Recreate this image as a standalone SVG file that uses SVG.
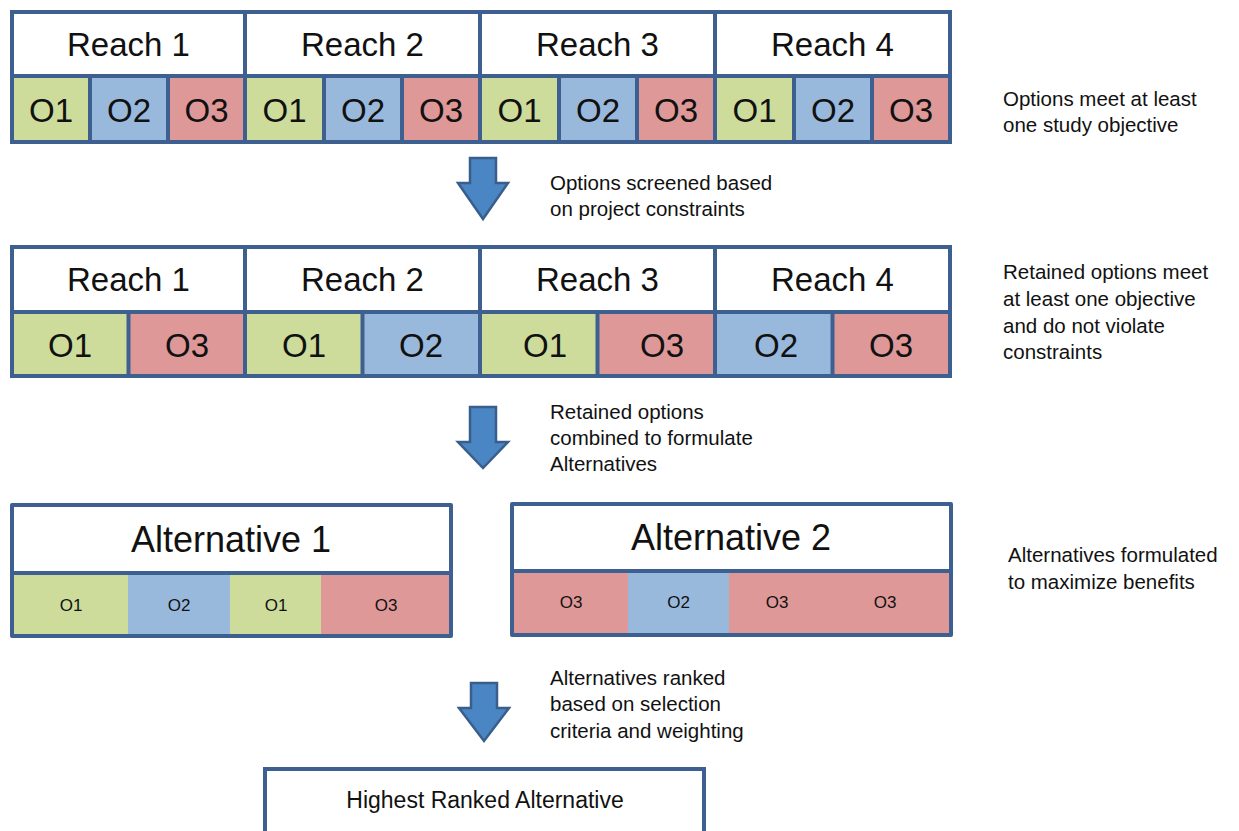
<svg xmlns="http://www.w3.org/2000/svg" width="1239" height="831" viewBox="0 0 1239 831">
<style>
.frame{fill:#3D6090}
.hdr{fill:#FFFFFF}
.g{fill:#CDDC9B}
.b{fill:#99B9DC}
.r{fill:#DE9898}
text{font-family:"Liberation Sans",Arial,sans-serif;fill:#111}
.big{font-size:33px;text-anchor:middle}
.alt{font-size:36px;text-anchor:middle}
.sm{font-size:17px;text-anchor:middle}
.note{font-size:20.5px}
.final{font-size:23px;text-anchor:middle}
.arrow{fill:#4A86C4;stroke:#3A5E8C;stroke-width:2.5;stroke-linejoin:miter}
</style>
<rect width="1239" height="831" fill="#FFFFFF"/>

<g id="row1">
  <rect class="frame" x="10" y="10" width="942" height="134"/>
  <rect class="hdr" x="14" y="14" width="229" height="60"/>
  <rect class="hdr" x="247" y="14" width="231" height="60"/>
  <rect class="hdr" x="482" y="14" width="231" height="60"/>
  <rect class="hdr" x="717" y="14" width="231" height="60"/>
  <text class="big" x="128.5" y="56">Reach 1</text>
  <text class="big" x="362.5" y="56">Reach 2</text>
  <text class="big" x="597.5" y="56">Reach 3</text>
  <text class="big" x="832.5" y="56">Reach 4</text>
  <rect class="g" x="14" y="78" width="74" height="62"/>
  <rect class="b" x="92" y="78" width="74" height="62"/>
  <rect class="r" x="170" y="78" width="73" height="62"/>
  <rect class="g" x="247" y="78" width="75" height="62"/>
  <rect class="b" x="326" y="78" width="74" height="62"/>
  <rect class="r" x="404" y="78" width="74" height="62"/>
  <rect class="g" x="482" y="78" width="75" height="62"/>
  <rect class="b" x="561" y="78" width="74" height="62"/>
  <rect class="r" x="639" y="78" width="74" height="62"/>
  <rect class="g" x="717" y="78" width="75" height="62"/>
  <rect class="b" x="796" y="78" width="74" height="62"/>
  <rect class="r" x="874" y="78" width="74" height="62"/>
  <text class="big" x="51" y="122">O1</text>
  <text class="big" x="129" y="122">O2</text>
  <text class="big" x="206.5" y="122">O3</text>
  <text class="big" x="284.5" y="122">O1</text>
  <text class="big" x="363" y="122">O2</text>
  <text class="big" x="441" y="122">O3</text>
  <text class="big" x="519.5" y="122">O1</text>
  <text class="big" x="598" y="122">O2</text>
  <text class="big" x="676" y="122">O3</text>
  <text class="big" x="754.5" y="122">O1</text>
  <text class="big" x="833" y="122">O2</text>
  <text class="big" x="911" y="122">O3</text>
</g>

<g id="row2">
  <rect class="frame" x="10" y="245" width="942" height="133"/>
  <rect class="hdr" x="14" y="249" width="229" height="61"/>
  <rect class="hdr" x="247" y="249" width="231" height="61"/>
  <rect class="hdr" x="482" y="249" width="231" height="61"/>
  <rect class="hdr" x="717" y="249" width="231" height="61"/>
  <text class="big" x="128.5" y="291">Reach 1</text>
  <text class="big" x="362.5" y="291">Reach 2</text>
  <text class="big" x="597.5" y="291">Reach 3</text>
  <text class="big" x="832.5" y="291">Reach 4</text>
  <rect class="g" x="14" y="314" width="112.5" height="60"/>
  <rect class="r" x="130.5" y="314" width="112.5" height="60"/>
  <rect class="g" x="247" y="314" width="113.5" height="60"/>
  <rect class="b" x="364.5" y="314" width="113.5" height="60"/>
  <rect class="g" x="482" y="314" width="113.5" height="60"/>
  <rect class="r" x="599.5" y="314" width="113.5" height="60"/>
  <rect class="b" x="717" y="314" width="113.5" height="60"/>
  <rect class="r" x="834.5" y="314" width="113.5" height="60"/>
  <text class="big" x="70" y="357">O1</text>
  <text class="big" x="187" y="357">O3</text>
  <text class="big" x="304" y="357">O1</text>
  <text class="big" x="421" y="357">O2</text>
  <text class="big" x="545" y="357">O1</text>
  <text class="big" x="662" y="357">O3</text>
  <text class="big" x="776" y="357">O2</text>
  <text class="big" x="891" y="357">O3</text>
</g>

<g id="alternative1">
  <rect class="frame" x="10" y="503" width="443" height="135" rx="2"/>
  <rect class="hdr" x="14" y="507" width="435" height="64"/>
  <text class="alt" x="231" y="552">Alternative 1</text>
  <rect class="g" x="14" y="575" width="114" height="59"/>
  <rect class="b" x="128" y="575" width="102" height="59"/>
  <rect class="g" x="230" y="575" width="91" height="59"/>
  <rect class="r" x="321" y="575" width="128" height="59"/>
  <text class="sm" x="71" y="611">O1</text>
  <text class="sm" x="179" y="611">O2</text>
  <text class="sm" x="276" y="611">O1</text>
  <text class="sm" x="386" y="611">O3</text>
</g>

<g id="alternative2">
  <rect class="frame" x="510" y="502" width="443" height="135" rx="2"/>
  <rect class="hdr" x="514" y="506" width="435" height="63"/>
  <text class="alt" x="731" y="550">Alternative 2</text>
  <rect class="r" x="514" y="573" width="114" height="60"/>
  <rect class="b" x="628" y="573" width="101" height="60"/>
  <rect class="r" x="729" y="573" width="111" height="60"/>
  <rect class="r" x="840" y="573" width="109" height="60"/>
  <text class="sm" x="571" y="608">O3</text>
  <text class="sm" x="678.5" y="608">O2</text>
  <text class="sm" x="777" y="608">O3</text>
  <text class="sm" x="885" y="608">O3</text>
</g>

<g id="final">
  <rect x="265" y="769" width="439" height="72" fill="#FFFFFF" stroke="#3D6090" stroke-width="4"/>
  <text class="final" x="485" y="808">Highest Ranked Alternative</text>
</g>

<g id="connectors">
  <path class="arrow" d="M470,158 H496 V183 H508 L483,219 L458,183 H470 Z"/>
  <path class="arrow" d="M470,407 H496 V442 H508 L483,468 L458,442 H470 Z"/>
  <path class="arrow" d="M471,683 H497 V708 H509 L484,741 L459,708 H471 Z"/>
</g>

<g id="notes">
  <text class="note" x="550" y="190">Options screened based</text>
  <text class="note" x="550" y="216">on project constraints</text>
  <text class="note" x="550" y="419">Retained options</text>
  <text class="note" x="550" y="445">combined to formulate</text>
  <text class="note" x="550" y="471">Alternatives</text>
  <text class="note" x="550" y="685">Alternatives ranked</text>
  <text class="note" x="550" y="711">based on selection</text>
  <text class="note" x="550" y="738">criteria and weighting</text>
  <text class="note" x="1003" y="106">Options meet at least</text>
  <text class="note" x="1003" y="132">one study objective</text>
  <text class="note" x="1003" y="279">Retained options meet</text>
  <text class="note" x="1003" y="306">at least one objective</text>
  <text class="note" x="1003" y="333">and do not violate</text>
  <text class="note" x="1003" y="359">constraints</text>
  <text class="note" x="1008" y="562">Alternatives formulated</text>
  <text class="note" x="1008" y="589">to maximize benefits</text>
</g>
</svg>
